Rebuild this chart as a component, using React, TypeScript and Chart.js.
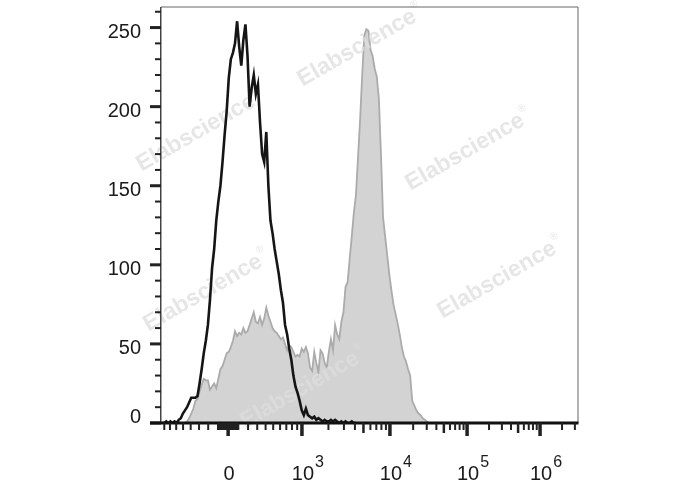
import React, { useEffect, useRef } from 'react';
import { Chart, registerables } from 'chart.js';

Chart.register(...registerables);

// ---- data (histogram counts per display channel bin) ----
const CHANNEL_MAX = 1000;
const BIN_WIDTH = 5;

const blackCounts = [
  0, 0, 1, 0, 1, 0, 1, 0, 2, 3, 6, 8, 10, 13, 16, 16, 16, 17, 25, 34,
  44, 52, 62, 78, 98, 110, 128, 140, 150, 165, 182, 197, 218, 230, 234, 240,
  254, 238, 226, 242, 252, 232, 200, 212, 220, 208, 214, 190, 170, 165, 184,
  150, 128, 120, 110, 102, 94, 84, 76, 62, 56, 47, 40, 30, 23, 19, 14, 8, 5,
  9, 5, 4, 3, 4, 2, 3, 2, 1, 2, 1, 1, 2, 1, 2, 1, 0, 1, 0, 1, 0, 0, 1, 0, 0,
];

const grayCounts = [
  0, 0, 0, 0, 0, 0, 0, 0, 0, 0, 0, 0, 1, 3, 6, 9, 14, 15, 20, 24,
  28, 27, 27, 21, 23, 25, 22, 28, 34, 36, 40, 44, 45, 48, 52, 58, 55, 57, 56, 60,
  57, 58, 62, 66, 70, 64, 63, 67, 62, 66, 73, 68, 64, 60, 58, 57, 55, 53, 54, 50,
  46, 49, 48, 45, 42, 43, 42, 47, 45, 48, 44, 35, 33, 45, 38, 32, 46, 44, 38, 35,
  45, 53, 46, 62, 56, 53, 64, 70, 86, 89, 104, 118, 133, 144, 168, 192, 220, 245, 249, 248,
  236, 232, 224, 219, 205, 170, 130, 118, 106, 94, 84, 75, 69, 63, 56, 48, 42, 39, 34, 30,
  14, 11, 8, 6, 5, 3, 2, 1, 0,
];

// ---- axes ----
const Y_MAX = 263;
const yMajorTicks = [0, 50, 100, 150, 200, 250];
const yMinorTicks = [10, 20, 30, 40, 60, 70, 80, 90, 110, 120, 130, 140, 160, 170, 180, 190, 210, 220, 230, 240, 260];

const xLabelValues = [0, 1e3, 1e4, 1e5, 1e6];
const xLabelBase = ['0', '10', '10', '10', '10'];
const xLabelExp = ['', '3', '4', '5', '6'];

// biexponential display transform anchors (value -> channel)
const zeroChannel = 161;
const linWidth = 500;
const decadeValues = [1e3, 1e4, 1e5, 1e6];
const decadeChannels = [338, 549, 734, 909];
const linearTickSteps = [10, 100];
const decadeMultipliers = [2, 3, 4, 5, 6, 7, 8, 9];

const watermarkCenters: [number, number][] = [
  [357, 48], [465, 152], [196, 133], [203, 293], [497, 280], [300, 390],
];

function valueToChannel(v: number): number {
  const s = Math.sign(v);
  const a = Math.abs(v);
  let off: number;
  if (a <= decadeValues[0]) {
    off = ((decadeChannels[0] - zeroChannel) * Math.asinh(a / linWidth)) / Math.asinh(decadeValues[0] / linWidth);
  } else {
    const L = Math.log10(a);
    let k = 0;
    while (k < decadeValues.length - 2 && L > Math.log10(decadeValues[k + 1])) k++;
    const l0 = Math.log10(decadeValues[k]);
    const l1 = Math.log10(decadeValues[k + 1]);
    off = decadeChannels[k] + ((L - l0) / (l1 - l0)) * (decadeChannels[k + 1] - decadeChannels[k]) - zeroChannel;
  }
  return zeroChannel + s * off;
}

function buildMinorTicks(): { v: number; medium: boolean }[] {
  const out: { v: number; medium: boolean }[] = [];
  for (const step of linearTickSteps) {
    for (let m = 1; m <= 9; m++) {
      out.push({ v: m * step, medium: false });
      out.push({ v: -m * step, medium: false });
    }
  }
  out.push({ v: -1000, medium: false });
  for (let d = 0; d < decadeValues.length; d++) {
    for (const m of decadeMultipliers) out.push({ v: m * decadeValues[d], medium: m === 5 });
  }
  return out;
}

const FONT = '"Liberation Sans", Arial, Helvetica, sans-serif';

const flowAxesPlugin = {
  id: 'flowAxes',
  afterDatasetDraw(chart: any, args: any) {
    if (args.index !== 1) return;
    const ctx = chart.ctx as CanvasRenderingContext2D;
    ctx.save();
    for (const [cx, cy] of watermarkCenters) {
      ctx.save();
      ctx.translate(cx, cy);
      ctx.rotate(-30 * Math.PI / 180);
      ctx.fillStyle = 'rgba(222,222,222,0.75)';
      ctx.font = `bold 23px ${FONT}`;
      ctx.textAlign = 'center';
      ctx.textBaseline = 'middle';
      ctx.fillText('Elabscience', 0, 0);
      const w = ctx.measureText('Elabscience').width;
      ctx.font = `10px ${FONT}`;
      ctx.textAlign = 'left';
      ctx.fillText('®', w / 2 + 1, -9);
      ctx.restore();
    }
    ctx.restore();
  },
  afterDraw(chart: any) {
    const ctx = chart.ctx as CanvasRenderingContext2D;
    const { left, right, top, bottom } = chart.chartArea;
    const xs = chart.scales.x;
    const ys = chart.scales.y;
    ctx.save();
    // frame
    ctx.fillStyle = '#666';
    ctx.fillRect(left, top - 0.5, right - left, 1);
    ctx.fillRect(right - 0.5, top, 1, bottom - top);
    ctx.fillStyle = '#444';
    ctx.fillRect(left - 1, top, 1.5, bottom - top);
    // y ticks
    ctx.fillStyle = '#222';
    for (const v of yMinorTicks) {
      const py = ys.getPixelForValue(v);
      ctx.fillRect(left - 6, py - 1, 6, 2);
    }
    for (const v of yMajorTicks) {
      const py = ys.getPixelForValue(v);
      ctx.fillRect(left - 11, py - 1.5, 11, 3);
    }
    // bottom axis
    ctx.fillStyle = '#111';
    ctx.fillRect(left - 11, bottom - 1.5, right - left + 11.5, 3);
    // x ticks
    ctx.fillStyle = '#222';
    for (const t of buildMinorTicks()) {
      const ch = valueToChannel(t.v);
      if (ch < 0 || ch > CHANNEL_MAX) continue;
      const px = xs.getPixelForValue(ch);
      if (t.medium) ctx.fillRect(px - 1.25, bottom, 2.5, 10);
      else ctx.fillRect(px - 1, bottom, 2, 7);
    }
    for (const v of xLabelValues) {
      const px = xs.getPixelForValue(valueToChannel(v));
      ctx.fillRect(px - 1.75, bottom, 3.5, 13);
    }
    // y labels
    ctx.fillStyle = '#1a1a1a';
    ctx.font = `20px ${FONT}`;
    ctx.textAlign = 'right';
    ctx.textBaseline = 'middle';
    for (const v of yMajorTicks) {
      const py = ys.getPixelForValue(v);
      const ly = v === 0 ? py - 6 : py + 5;
      ctx.fillText(String(v), left - 20, ly);
    }
    // x labels
    ctx.textBaseline = 'alphabetic';
    xLabelValues.forEach((v, i) => {
      const px = xs.getPixelForValue(valueToChannel(v));
      ctx.font = `20px ${FONT}`;
      ctx.textAlign = 'center';
      ctx.fillText(xLabelBase[i], px + 1, bottom + 57);
      if (xLabelExp[i]) {
        const w = ctx.measureText(xLabelBase[i]).width;
        ctx.font = `16px ${FONT}`;
        ctx.textAlign = 'left';
        ctx.fillText(xLabelExp[i], px + 1 + w / 2 + 1, bottom + 44);
      }
    });
    ctx.restore();
  },
};

export default function App() {
  const ref = useRef<HTMLCanvasElement | null>(null);
  useEffect(() => {
    if (!ref.current) return;
    const toPoints = (arr: number[]) => arr.map((c, i) => ({ x: (i + 0.5) * BIN_WIDTH, y: c }));
    const chart = new Chart(ref.current, {
      type: 'line',
      data: {
        datasets: [
          {
            label: 'Isotype',
            data: toPoints(blackCounts),
            borderColor: '#151515',
            borderWidth: 2.6,
            fill: false,
            pointRadius: 0,
            tension: 0,
            order: 0,
          },
          {
            label: 'Stained',
            data: toPoints(grayCounts),
            borderColor: '#ababab',
            backgroundColor: '#d3d3d3',
            borderWidth: 1.8,
            fill: 'origin',
            pointRadius: 0,
            tension: 0,
            order: 1,
          },
        ],
      },
      options: {
        animation: false,
        responsive: false,
        devicePixelRatio: 1,
        layout: { padding: { left: 161, right: 110, top: 7, bottom: 67 } },
        plugins: { legend: { display: false }, tooltip: { enabled: false } },
        scales: {
          x: { type: 'linear', min: 0, max: CHANNEL_MAX, display: false },
          y: { type: 'linear', min: 0, max: Y_MAX, display: false },
        },
      },
      plugins: [flowAxesPlugin],
    });
    return () => chart.destroy();
  }, []);
  return (
    <div style={{ position: 'absolute', left: 0, top: 0, width: 688, height: 490, background: '#fff' }}>
      <canvas ref={ref} width={688} height={490} />
    </div>
  );
}
